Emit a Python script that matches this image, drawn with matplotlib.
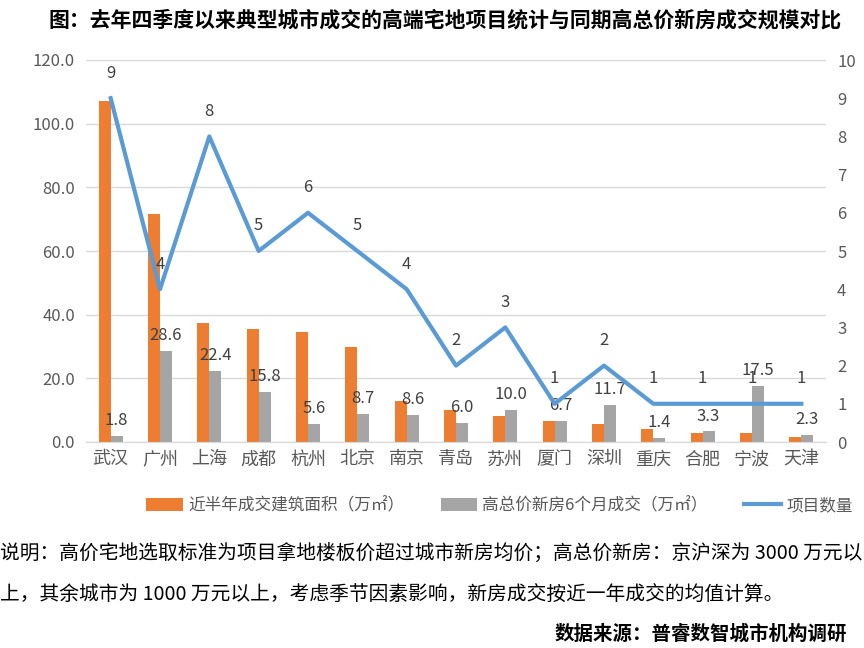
import numpy as np
import matplotlib
matplotlib.use('Agg')
import matplotlib.pyplot as plt

plt.rcParams['font.family'] = ['Noto Sans CJK SC', 'DejaVu Sans']

cities = ['武汉', '广州', '上海', '成都', '杭州', '北京', '南京', '青岛', '苏州',
          '厦门', '深圳', '重庆', '合肥', '宁波', '天津']
land_area = [107.1, 71.5, 37.5, 35.6, 34.7, 29.9, 13.0, 10.0, 8.2,
             6.5, 5.7, 4.1, 2.9, 2.7, 1.7]
high_price = [1.8, 28.6, 22.4, 15.8, 5.6, 8.7, 8.6, 6.0, 10.0,
              6.7, 11.7, 1.4, 3.3, 17.5, 2.3]
projects = [9, 4, 8, 5, 6, 5, 4, 2, 3, 1, 2, 1, 1, 1, 1]

orange = '#ED7D31'
gray = '#A5A5A5'
blue = '#5B9BD5'
txt = '#404040'

fig = plt.figure(figsize=(8.64, 6.48), dpi=100)
ax = fig.add_axes([86 / 864, 1 - 442 / 648, 740 / 864, 382 / 648])
ax2 = ax.twinx()

x = np.arange(len(cities))
w = 0.24
b1 = ax.bar(x - w / 2, land_area, w, color=orange, label='近半年成交建筑面积（万㎡）', zorder=2)
b2 = ax.bar(x + w / 2, high_price, w, color=gray, label='高总价新房6个月成交（万㎡）', zorder=2)

# data labels on the gray bars
for xi, v in zip(x, high_price):
    ax.annotate(f'{v:.1f}', (xi + w / 2, v), xytext=(0, 5), textcoords='offset points',
                ha='center', va='bottom', fontsize=12, color=txt)

ln, = ax2.plot(x, projects, color=blue, lw=3, label='项目数量', zorder=3)
for xi, v in zip(x, projects):
    ax2.annotate(str(v), (xi, v), xytext=(0, 12), textcoords='offset points',
                 ha='center', va='bottom', fontsize=12, color=txt)

ax.set_xlim(-0.5, len(cities) - 0.5)
ax.set_ylim(0, 120)
ax.set_yticks(np.arange(0, 121, 20))
ax.set_yticklabels([f'{v:.1f}' for v in np.arange(0, 121, 20)])
ax2.set_ylim(0, 10)
ax2.set_yticks(range(0, 11))

ax.set_xticks(x)
ax.set_xticklabels(cities)
ax.grid(axis='y', color='#D9D9D9', lw=1, zorder=0)
ax.set_axisbelow(True)

for a in (ax, ax2):
    for s in ['top', 'left', 'right']:
        a.spines[s].set_visible(False)
    a.spines['bottom'].set_color('#D9D9D9')
    a.tick_params(length=0, labelsize=12, colors='#595959')
ax.tick_params(axis='x', labelsize=13, pad=6)
ax.tick_params(axis='y', pad=8)
ax2.tick_params(axis='y', pad=8)

fig.legend(handles=[b1, b2, ln], loc='center', bbox_to_anchor=(0.578, 1 - 506 / 648),
           ncol=3, frameon=False, fontsize=12, handlelength=2.2, handleheight=0.8,
           columnspacing=2.2, handletextpad=0.3, labelcolor='#595959',
           borderpad=0, borderaxespad=0)

fig.text(0.515, 1 - 20 / 648, '图：去年四季度以来典型城市成交的高端宅地项目统计与同期高总价新房成交规模对比',
         ha='center', va='center', fontsize=15, fontweight='bold', color='black')
fig.text(0.0, 1 - 553 / 648, '说明：高价宅地选取标准为项目拿地楼板价超过城市新房均价；高总价新房：京沪深为 3000 万元以',
         ha='left', va='center', fontsize=14.2, color='black')
fig.text(0.0, 1 - 594 / 648, '上，其余城市为 1000 万元以上，考虑季节因素影响，新房成交按近一年成交的均值计算。',
         ha='left', va='center', fontsize=14.2, color='black')
fig.text(0.98, 1 - 634 / 648, '数据来源：普睿数智城市机构调研',
         ha='right', va='center', fontsize=14, fontweight='bold', color='black')

fig.savefig('out.png', dpi=100)
